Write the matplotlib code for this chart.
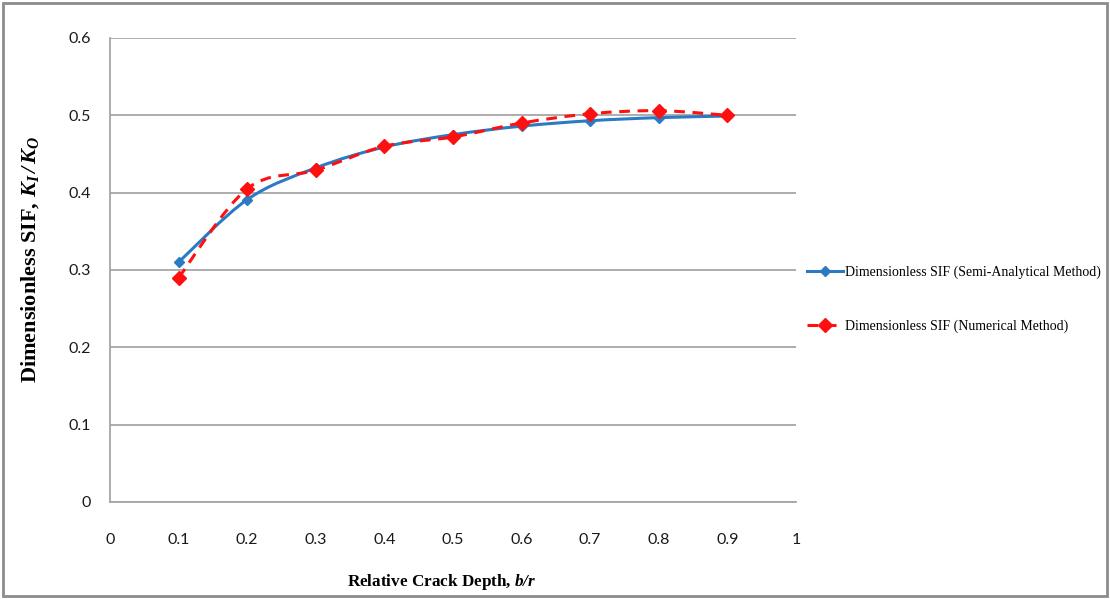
import numpy as np
import matplotlib
matplotlib.use("Agg")
import matplotlib.pyplot as plt
from matplotlib.path import Path
from matplotlib.patches import PathPatch, Rectangle
from matplotlib.lines import Line2D

# valores
depth = [0.1, 0.2, 0.3, 0.4, 0.5, 0.6, 0.7, 0.8, 0.9]
sif_semi = [0.310, 0.391, 0.432, 0.459, 0.475, 0.486, 0.493, 0.497, 0.499]
sif_num = [0.290, 0.405, 0.429, 0.460, 0.472, 0.490, 0.502, 0.506, 0.500]

lbl_semi = "Dimensionless SIF (Semi-Analytical Method)"
lbl_num = "Dimensionless SIF (Numerical Method)"

plt.rcParams["mathtext.fontset"] = "custom"
plt.rcParams["mathtext.bf"] = "Liberation Serif:bold:italic"
plt.rcParams["mathtext.it"] = "Liberation Serif:italic"
plt.rcParams["mathtext.rm"] = "Liberation Serif:bold"


def smooth_path(xs, ys):
    # curva suavizada estilo Excel (Catmull-Rom -> Bezier)
    pts = np.column_stack([xs, ys])
    verts = [pts[0]]
    codes = [Path.MOVETO]
    n = len(pts)
    for i in range(n - 1):
        p0 = pts[max(i - 1, 0)]
        p1 = pts[i]
        p2 = pts[i + 1]
        p3 = pts[min(i + 2, n - 1)]
        c1 = p1 + (p2 - p0) / 6
        c2 = p2 - (p3 - p1) / 6
        verts += [c1, c2, p2]
        codes += [Path.CURVE4] * 3
    return Path(verts, codes)


fig = plt.figure(figsize=(11.1, 5.99), dpi=100)
ax = fig.add_axes([0.0991, 0.162, 0.618, 0.7746])

blue = "#2a7bc4"
red = "#ff1010"

ax.add_patch(PathPatch(smooth_path(depth, sif_semi), fill=False, color=blue, lw=2.2, zorder=3))
ax.plot(depth, sif_semi, ls="none", marker="D", ms=5.5, color=blue, zorder=4)
ax.add_patch(PathPatch(smooth_path(depth, sif_num), fill=False, color=red, lw=2.2,
                       linestyle=(0, (3.5, 2.5)), zorder=5))
ax.plot(depth, sif_num, ls="none", marker="D", ms=7, color=red, zorder=6)

ax.set_xlim(0, 1)
ax.set_ylim(0, 0.6)
ax.set_xticks(np.arange(0, 1.01, 0.1))
ax.set_xticklabels(["0", "0.1", "0.2", "0.3", "0.4", "0.5", "0.6", "0.7", "0.8", "0.9", "1"])
ax.set_yticks(np.arange(0, 0.61, 0.1))
ax.set_yticklabels(["0", "0.1", "0.2", "0.3", "0.4", "0.5", "0.6"])
ax.yaxis.grid(True, color="#a6a6a6", lw=1.3)
ax.set_axisbelow(True)
for s in ["top", "right"]:
    ax.spines[s].set_visible(False)
for s in ["left", "bottom"]:
    ax.spines[s].set_color("#a6a6a6")
    ax.spines[s].set_linewidth(1.3)
ax.tick_params(axis="x", length=0, pad=22, labelsize=11.5)
ax.tick_params(axis="y", length=0, pad=14, labelsize=11.5)
for t in ax.get_xticklabels() + ax.get_yticklabels():
    t.set_fontfamily("Lato")
    t.set_color("#1a1a1a")

fig.text(0.027, 0.566, r"Dimensionless SIF, $\mathbf{K_I\,/\,K_O}$", rotation=90,
         ha="center", va="center", fontsize=16, fontweight="bold", family="Liberation Serif")
fig.text(0.398, 0.028, r"Relative Crack Depth, $\mathbf{b/r}$", ha="center", va="center",
         fontsize=12.3, fontweight="bold", family="Liberation Serif")

handles = [
    Line2D([], [], color=blue, lw=2.2, marker="D", ms=5.5),
    Line2D([], [], color=red, lw=2.2, ls=(0, (3.5, 2.5)), marker="D", ms=7),
]
fig.legend(handles, [lbl_semi, lbl_num], loc="center left", bbox_to_anchor=(0.716, 0.5),
           frameon=False, handlelength=2.6, handletextpad=0.1, labelspacing=2.9,
           prop={"family": "Liberation Serif", "size": 10})

# moldura externa
fig.add_artist(Rectangle((0.003, 0.005), 0.994, 0.99, transform=fig.transFigure,
                         fill=False, edgecolor="#8c8c8c", lw=2))

fig.savefig("out.png", dpi=100)
